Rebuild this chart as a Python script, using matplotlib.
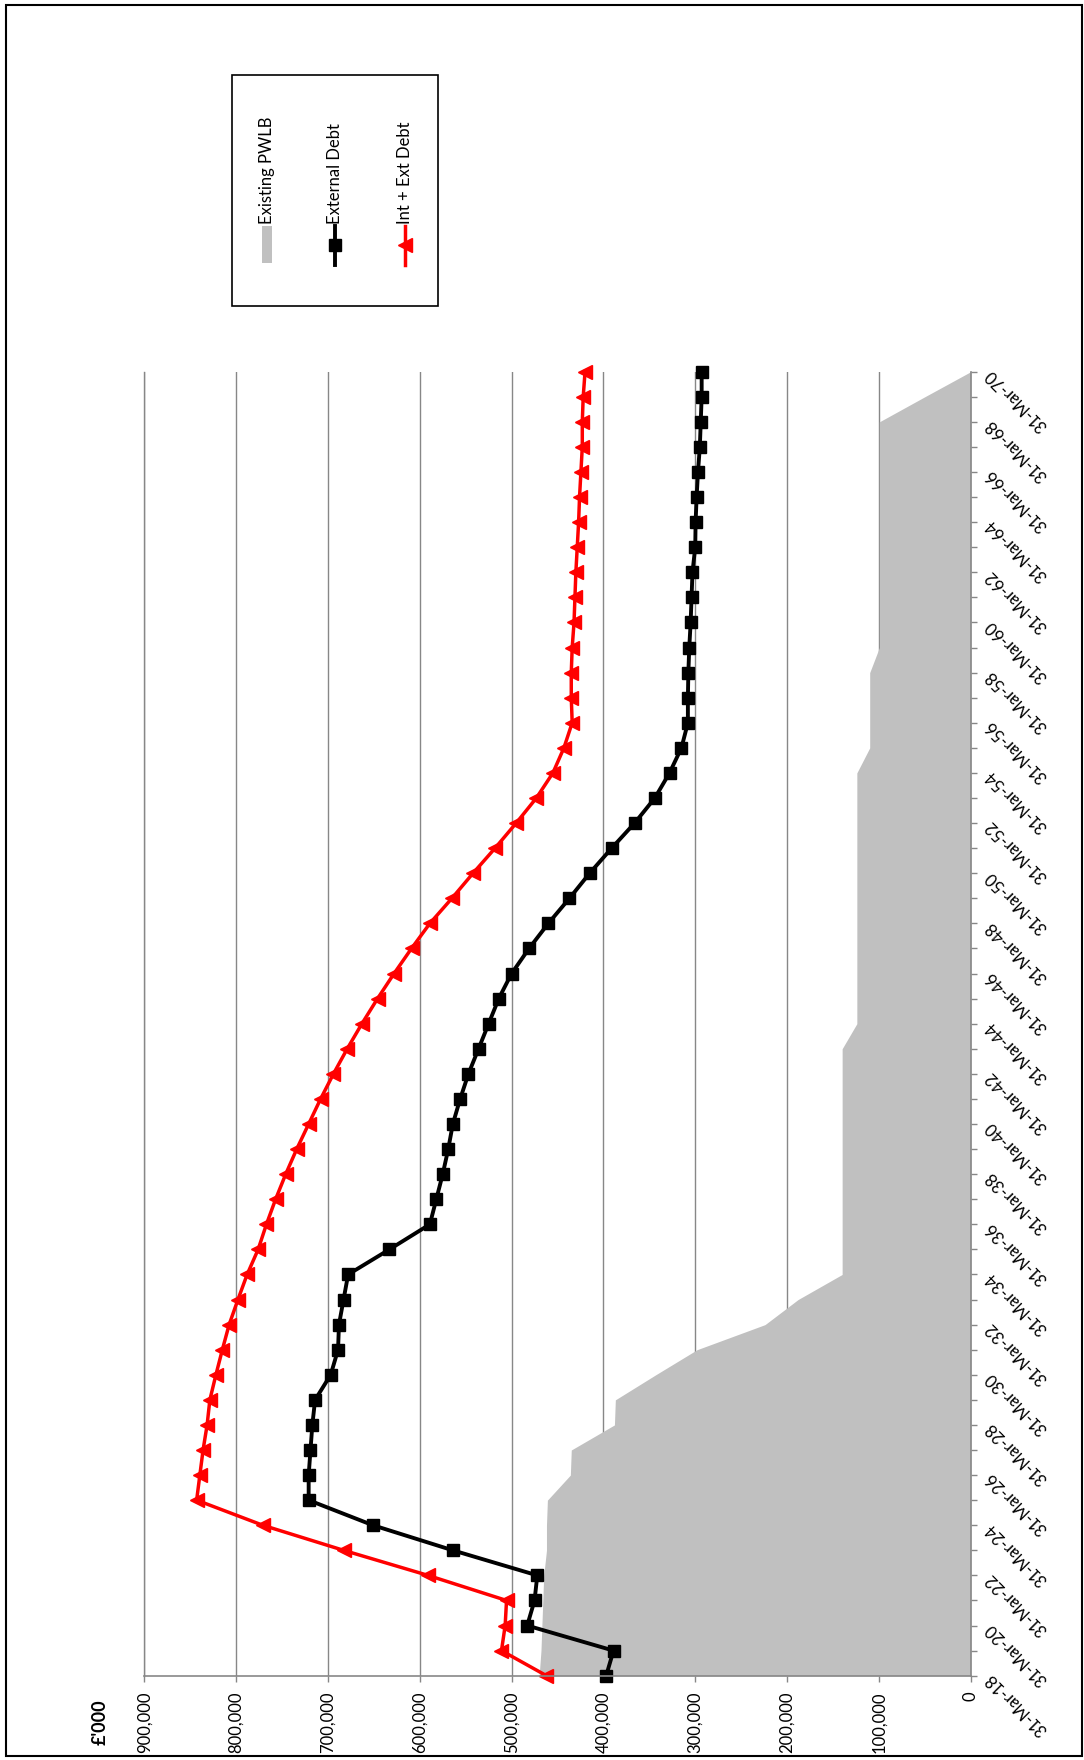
import matplotlib
matplotlib.use("Agg")
import matplotlib.pyplot as plt
from matplotlib.lines import Line2D
from matplotlib.patches import Rectangle
from matplotlib.ticker import MultipleLocator, FuncFormatter, FixedLocator

plt.rcParams['font.family'] = ['Lato', 'DejaVu Sans']

# ---------------- data (£'000) ----------------
years = list(range(2018, 2071))

existing_pwlb = [470000, 468000, 467000, 466000, 465000, 462000, 462000, 461000,
                 436000, 435000, 388000, 387000, 343000, 298000, 224000, 188000,
                 140000, 140000, 140000, 140000, 140000, 140000, 140000, 140000,
                 140000, 140000, 124000, 124000, 124000, 124000, 124000, 124000,
                 124000, 124000, 124000, 124000, 124000, 110000, 110000, 110000,
                 110000, 99500, 99500, 99500, 99500, 99500, 99500, 99500,
                 99500, 99500, 99500, 50000, 0]

external_debt = [397000, 389000, 483000, 475000, 472000, 564000, 651000, 721000,
                 721000, 719000, 717000, 714000, 697000, 689000, 688000, 683000,
                 678000, 633000, 589000, 582000, 575000, 569000, 564000, 556000,
                 547000, 536000, 525000, 514000, 500000, 481000, 460000, 437000,
                 415000, 391000, 366000, 344000, 328000, 315000, 308000, 308000,
                 307500, 306500, 305000, 304000, 303000, 300000, 299600, 298500,
                 297000, 295000, 294000, 293000, 293000]

int_ext_debt = [462000, 511000, 507000, 505500, 591000, 683000, 771000, 843000,
                839500, 836000, 831600, 828600, 822000, 815000, 807600, 798000,
                788000, 776000, 767000, 757000, 746000, 734000, 721000, 708000,
                694000, 679000, 663000, 646000, 628000, 609000, 589000, 565000,
                542000, 518000, 495000, 473000, 455000, 443000, 434000, 435000,
                435000, 434000, 432000, 431000, 430000, 428500, 427000, 426000,
                424500, 423000, 423000, 422000, 420000]

label_years = years[::2]
date_labels = ["31-Mar-%02d" % (y % 100) for y in label_years]
value_ticks = [0, 100000, 200000, 300000, 400000, 500000, 600000, 700000, 800000, 900000]
series_names = ["Existing PWLB", "External Debt", "Int + Ext Debt"]

# ---------------- figure ----------------
W, H = 1084, 1760
fig = plt.figure(figsize=(W / 100, H / 100), dpi=100)
fig.patch.set_facecolor('white')

def fx(px):
    return px / W

def fy(py):
    return (H - py) / H

ax_l, ax_r, ax_t, ax_b = 144.3, 970.7, 371.7, 1675.7
ax = fig.add_axes([fx(ax_l), fy(ax_b), fx(ax_r - ax_l), (ax_b - ax_t) / H])

grid_c = '#878787'
ax.fill_betweenx(years, 0, existing_pwlb, color='#c0c0c0', lw=0, zorder=2)
ax.plot(external_debt, years, color='black', lw=2.8, marker='s', ms=9,
        mec='black', mfc='black', zorder=4, clip_on=False)
ax.plot(int_ext_debt, years, color='#ff0000', lw=2.5, marker='<', ms=10,
        mec='#ff0000', mfc='#ff0000', zorder=5, clip_on=False)

ax.set_xlim(900000, 0)
ax.set_ylim(years[0], years[-1])

ax.xaxis.set_major_locator(FixedLocator(value_ticks))
ax.xaxis.set_major_formatter(FuncFormatter(lambda v, p: "{:,.0f}".format(v)))
ax.xaxis.grid(True, color=grid_c, lw=1.0)
ax.yaxis.grid(False)
ax.set_axisbelow(True)

for s in ['top']:
    ax.spines[s].set_visible(False)
ax.spines['left'].set_color(grid_c)
ax.spines['left'].set_linewidth(1.0)
ax.spines['bottom'].set_color(grid_c)
ax.spines['bottom'].set_linewidth(1.2)
ax.spines['right'].set_color(grid_c)
ax.spines['right'].set_linewidth(1.2)
ax.spines['bottom'].set_zorder(6)
ax.spines['right'].set_zorder(6)

ax.tick_params(axis='x', direction='out', length=4.5, width=1.0, color=grid_c,
               labelsize=12, pad=7, labelrotation=90)
for lab in ax.get_xticklabels():
    lab.set_va('top')
    lab.set_ha('center')

ax.yaxis.tick_right()
ax.yaxis.set_major_locator(FixedLocator(label_years))
ax.yaxis.set_minor_locator(MultipleLocator(1))
ax.set_yticklabels(date_labels)
ax.tick_params(axis='y', which='both', direction='out', length=4.5, width=1.0,
               color=grid_c, left=False, right=True)
ax.tick_params(axis='y', which='major', labelsize=12, pad=8)
for lab in ax.get_yticklabels():
    lab.set_rotation(135)
    lab.set_rotation_mode('anchor')
    lab.set_ha('right')
    lab.set_va('center')

# unit label
fig.text(fx(100), fy(1722), "£'000", rotation=90, fontsize=13, fontweight='bold',
         ha='center', va='center')

# ---------------- legend (rotated) ----------------
fig.add_artist(Rectangle((fx(232.3), fy(306.3)), fx(206), 231 / H,
                         transform=fig.transFigure, fill=False, ec='black', lw=1.2))
# gray patch
fig.add_artist(Rectangle((fx(261.7), fy(263)), fx(10), 37 / H,
                         transform=fig.transFigure, fc='#c0c0c0', ec='none'))
fig.add_artist(Line2D([fx(335), fx(335)], [fy(265), fy(226)], transform=fig.transFigure,
                      color='black', lw=2.8))
fig.add_artist(Line2D([fx(335)], [fy(245)], transform=fig.transFigure,
                      color='black', marker='s', ms=9, ls='none'))
fig.add_artist(Line2D([fx(405), fx(405)], [fy(265), fy(226)], transform=fig.transFigure,
                      color='#ff0000', lw=2.5))
fig.add_artist(Line2D([fx(405)], [fy(245)], transform=fig.transFigure,
                      color='#ff0000', marker='<', ms=10, ls='none'))
for xpos, name in zip([266.7, 335, 405], series_names):
    fig.text(fx(xpos), fy(224), name, rotation=90, fontsize=12,
             ha='center', va='bottom')

# outer border
fig.add_artist(Rectangle((fx(5.5), fy(1756)), fx(1076), 1750.5 / H,
                         transform=fig.transFigure, fill=False, ec='black', lw=1.5))

fig.savefig("out.png", dpi=100, facecolor='white')
